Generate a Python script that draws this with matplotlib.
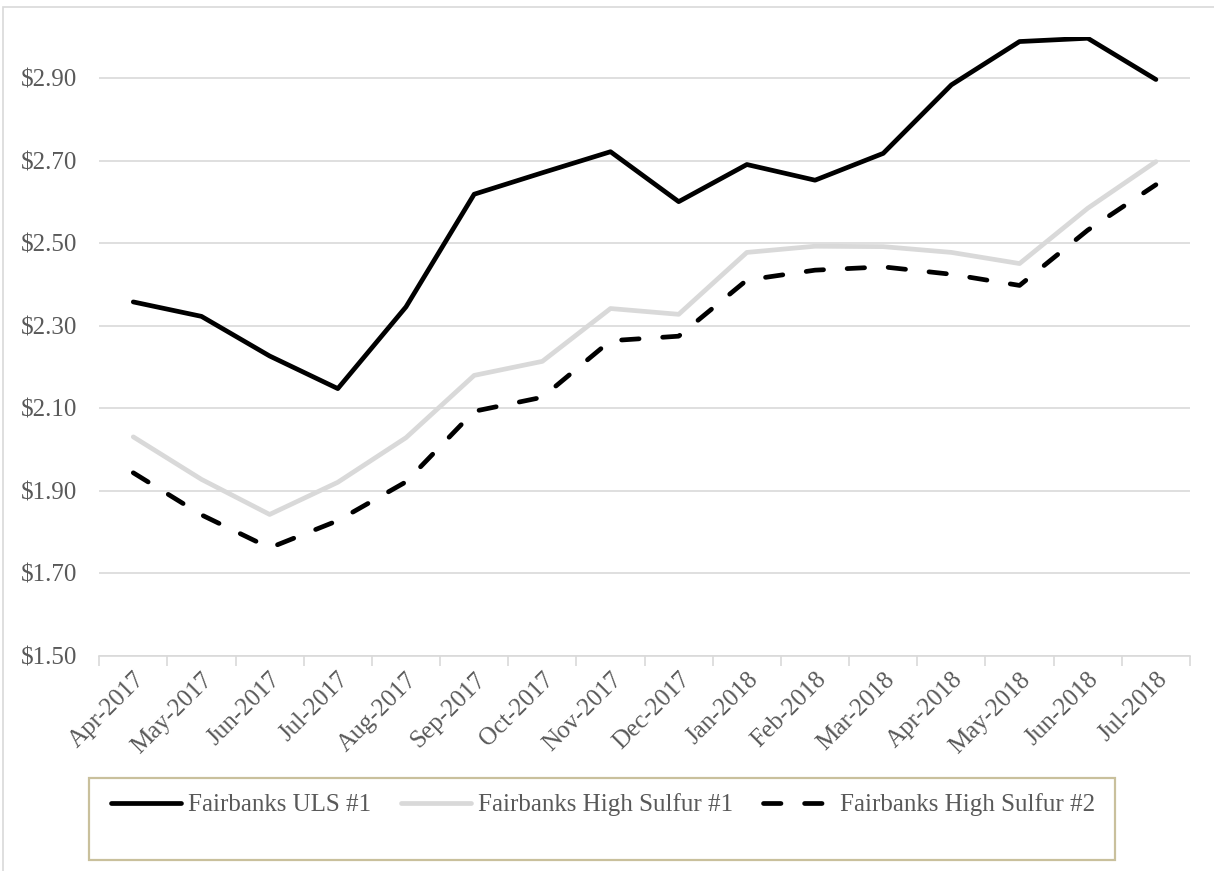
import numpy as np
import matplotlib
matplotlib.use("Agg")
import matplotlib.pyplot as plt
from matplotlib.patches import Rectangle
from matplotlib.ticker import FixedLocator, FuncFormatter

months = ["Apr-2017", "May-2017", "Jun-2017", "Jul-2017", "Aug-2017", "Sep-2017",
          "Oct-2017", "Nov-2017", "Dec-2017", "Jan-2018", "Feb-2018", "Mar-2018",
          "Apr-2018", "May-2018", "Jun-2018", "Jul-2018"]
uls_1 = [2.358, 2.323, 2.227, 2.148, 2.346, 2.619, 2.671, 2.722,
         2.601, 2.691, 2.653, 2.718, 2.884, 2.989, 2.997, 2.897]
high_sulfur_1 = [2.031, 1.928, 1.843, 1.921, 2.029, 2.180, 2.214, 2.342,
                 2.328, 2.478, 2.493, 2.492, 2.478, 2.451, 2.585, 2.698]
high_sulfur_2 = [1.944, 1.842, 1.762, 1.828, 1.922, 2.093, 2.127, 2.264,
                 2.275, 2.411, 2.435, 2.443, 2.425, 2.398, 2.532, 2.642]
yticks = [1.50, 1.70, 1.90, 2.10, 2.30, 2.50, 2.70, 2.90]

plt.rcParams["font.family"] = ["Liberation Serif", "DejaVu Serif"]
text_col = "#595959"
grid_col = "#D9D9D9"
fs = 18

W, H = 1214, 871
fig = plt.figure(figsize=(W / 100, H / 100), dpi=100)
ax = fig.add_axes([99.2 / W, 1 - 656 / H, (1190 - 99.2) / W, (656 - 37) / H])

x = np.arange(len(months))
ax.plot(x, uls_1, color="black", lw=3.4, solid_capstyle="round",
        solid_joinstyle="round", label="Fairbanks ULS #1", zorder=3)
ax.plot(x, high_sulfur_1, color=grid_col, lw=3.4, solid_capstyle="round",
        solid_joinstyle="round", label="Fairbanks High Sulfur #1", zorder=2)
ax.plot(x, high_sulfur_2, color="black", lw=3.4, dashes=(3.7, 5.0),
        dash_capstyle="round", label="Fairbanks High Sulfur #2", zorder=3)

ax.set_xlim(-0.5, len(months) - 0.5)
ax.set_ylim(1.50, 3.00)
ax.set_yticks(yticks)
ax.yaxis.set_major_formatter(FuncFormatter(lambda v, p: f"${v:.2f}"))
ax.yaxis.grid(True, color=grid_col, lw=1.2)
ax.set_axisbelow(True)
ax.tick_params(axis="y", length=0, pad=16, labelsize=fs, labelcolor=text_col)

ax.set_xticks(x)
ax.set_xticklabels(months, rotation=45, ha="right", rotation_mode="anchor")
ax.tick_params(axis="x", which="major", length=0, pad=9, labelsize=fs,
               labelcolor=text_col)
ax.xaxis.set_minor_locator(FixedLocator(np.arange(-0.5, len(months), 1.0)))
ax.tick_params(axis="x", which="minor", length=7, width=1.2, color=grid_col)

for side in ["top", "right", "left"]:
    ax.spines[side].set_visible(False)
ax.spines["bottom"].set_color(grid_col)
ax.spines["bottom"].set_linewidth(1.2)

# legend row with its own framed box
leg = fig.legend(loc="center", bbox_to_anchor=(603 / W, 1 - 805 / H), ncol=3,
                 frameon=False, fontsize=fs, handlelength=2.8,
                 handletextpad=0.28, columnspacing=1.2, borderpad=0)
for t in leg.get_texts():
    t.set_color(text_col)
fig.add_artist(Rectangle((89 / W, 1 - 860 / H), (1115 - 89) / W, (860 - 778) / H,
                         transform=fig.transFigure, fill=False,
                         edgecolor="#C9C09C", lw=1.6))

# outer chart border
fig.add_artist(Rectangle((3 / W, -0.05), 1.1, 1 - 7 / H + 0.05,
                         transform=fig.transFigure, fill=False,
                         edgecolor=grid_col, lw=1.2))

fig.savefig("out.png", dpi=100)
